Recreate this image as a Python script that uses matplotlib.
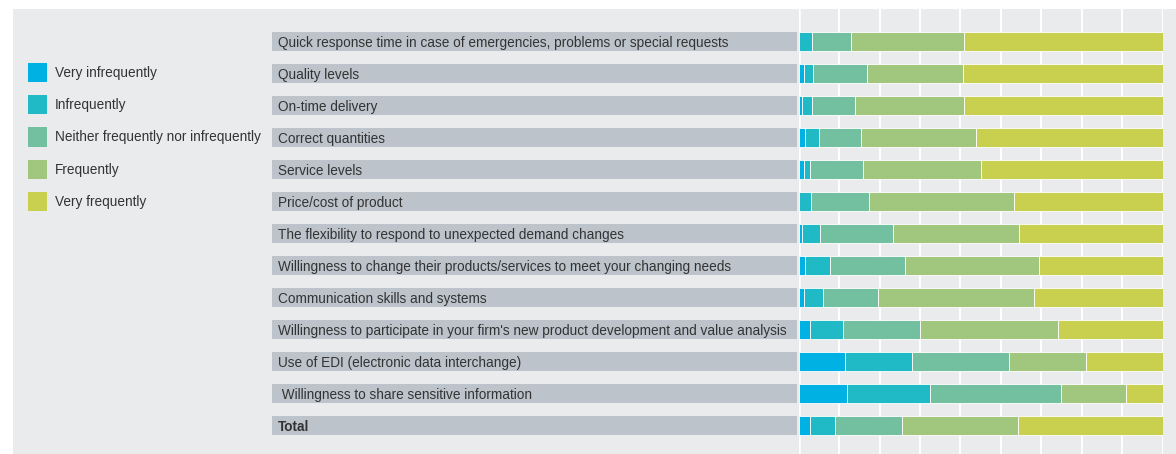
import numpy as np
import matplotlib.pyplot as plt
from matplotlib.patches import Patch, Rectangle

plt.rcParams['font.family'] = ['Liberation Sans', 'DejaVu Sans']

items = [
    "Quick response time in case of emergencies, problems or special requests",
    "Quality levels",
    "On-time delivery",
    "Correct quantities",
    "Service levels",
    "Price/cost of product",
    "The flexibility to respond to unexpected demand changes",
    "Willingness to change their products/services to meet your changing needs",
    "Communication skills and systems",
    "Willingness to participate in your firm's new product development and value analysis",
    "Use of EDI (electronic data interchange)",
    " Willingness to share sensitive information",
    "Total",
]
levels = ["Very infrequently", "Infrequently", "Neither frequently nor infrequently",
          "Frequently", "Very frequently"]

very_infrequently = [0.0, 1.4, 0.9, 1.6, 1.4, 0.0, 0.9, 1.6, 1.4, 3.1, 12.8, 13.3, 3.1]
infrequently = [3.7, 2.6, 2.7, 4.0, 1.6, 3.3, 5.0, 7.0, 5.3, 9.0, 18.3, 22.8, 7.0]
neither = [10.6, 14.8, 11.9, 11.4, 14.7, 16.0, 20.1, 20.6, 15.1, 21.2, 26.6, 36.0, 18.3]
frequently = [31.0, 26.3, 29.8, 31.8, 32.5, 39.8, 34.5, 36.7, 42.9, 38.0, 21.2, 17.9, 31.8]
very_frequently = [54.7, 54.9, 54.7, 51.2, 49.8, 40.9, 39.5, 34.1, 35.3, 28.7, 21.1, 10.0, 39.8]

colors = ["#00b2e3", "#1fbac6", "#72c0a0", "#a1c77f", "#c9d04f"]
panel = "#eaebed"
label_grey = "#bcc3ca"
txt = "#333333"

W, H = 1176, 454
fig = plt.figure(figsize=(W / 100, H / 100), dpi=100, facecolor="white")

# grey panel behind everything
fig.patches.append(Rectangle((13 / W, 0), 1 - 13 / W, (H - 9) / H,
                             transform=fig.transFigure, facecolor=panel,
                             edgecolor="none", zorder=-10))

n = len(items)
y = np.arange(n)
row_px = 32.0
first_px = 41.5
ytop = (9 - first_px) / row_px
ybot = (H - first_px) / row_px
bar_h = 19 / row_px

# label boxes
axl = fig.add_axes([272 / W, 0, (797 - 272) / W, (H - 9) / H])
axl.set_facecolor("none")
axl.barh(y, 1, height=bar_h, left=0, color=label_grey, edgecolor="none")
for i, lab in enumerate(items):
    axl.text(6 / 525, i, lab, va="center_baseline", ha="left", fontsize=9.8, color=txt,
             fontweight="bold" if lab == "Total" else "normal")
axl.set_xlim(0, 1)
axl.set_ylim(ybot, ytop)
axl.axis("off")

# stacked bars
ax = fig.add_axes([798.7 / W, 0, 364 / W, (H - 9) / H])
ax.set_facecolor("none")
series = [very_infrequently, infrequently, neither, frequently, very_frequently]
left = np.zeros(n)
for vals, c, lev in zip(series, colors, levels):
    vals = np.array(vals)
    ax.barh(y, vals, height=bar_h, left=left, color=c, edgecolor="white",
            linewidth=0.6, label=lev, zorder=3)
    left += vals
for gx in np.linspace(0, 100, 10):
    ax.axvline(gx, color="white", lw=1.4 if gx > 0 else 1.8, zorder=1)
ax.set_xlim(0, 100)
ax.set_ylim(ybot, ytop)
ax.axis("off")

handles = [Patch(facecolor=c, edgecolor="none") for c in colors]
fig.legend(handles, levels, loc="upper left", bbox_to_anchor=(28 / W, 1 - 63 / H),
           frameon=False, fontsize=9.8, borderpad=0, borderaxespad=0,
           handlelength=1.4, handleheight=1.79, labelspacing=0.96,
           handletextpad=0.59, labelcolor=txt)

fig.savefig("out.png", dpi=100, facecolor="white")
